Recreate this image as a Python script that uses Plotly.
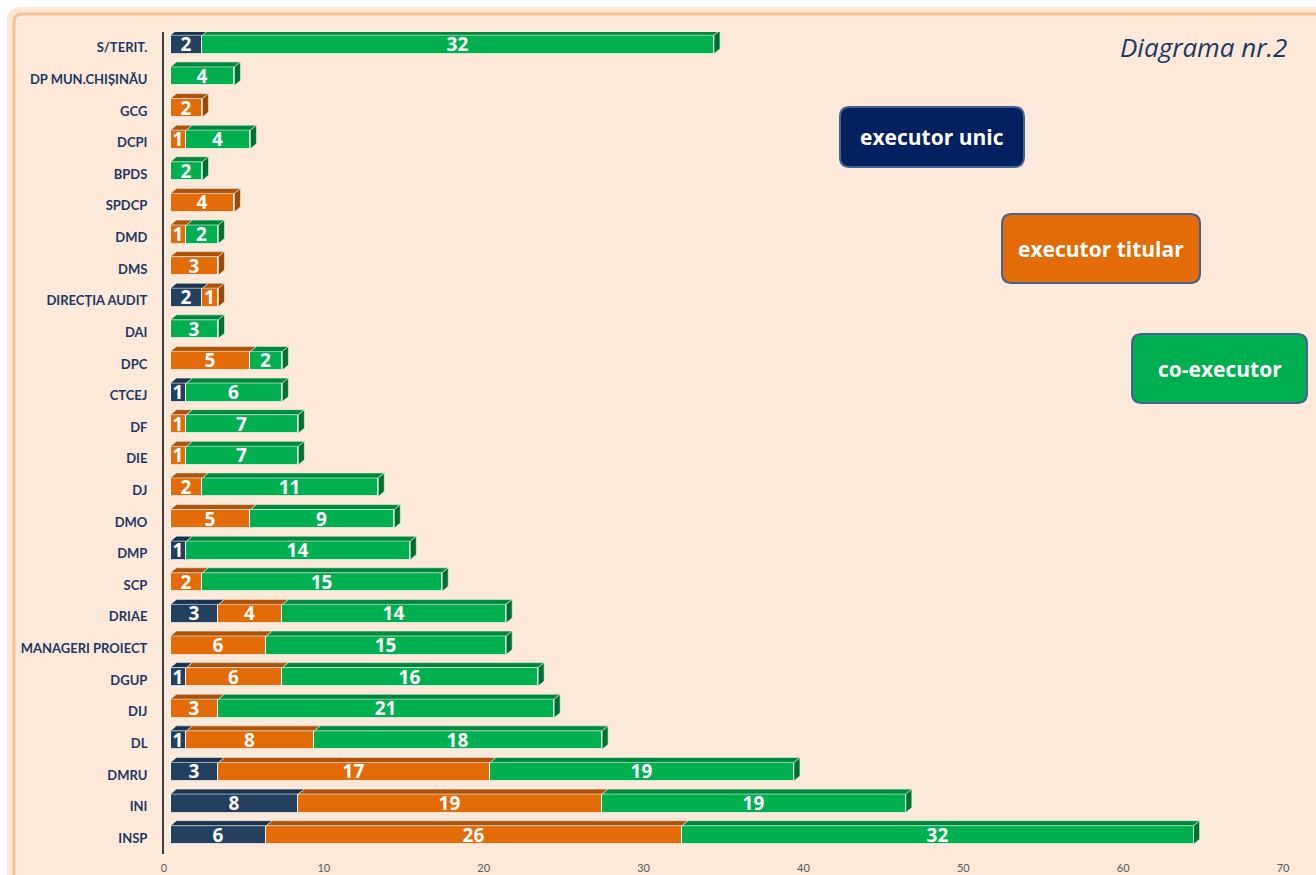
import plotly.graph_objects as go

# ---------------- data (top to bottom as in the chart) ----------------
categories = ["S/TERIT.", "DP MUN.CHIȘINĂU", "GCG", "DCPI", "BPDS", "SPDCP", "DMD", "DMS",
              "DIRECȚIA AUDIT", "DAI", "DPC", "CTCEJ", "DF", "DIE", "DJ", "DMO", "DMP", "SCP",
              "DRIAE", "MANAGERI PROIECT", "DGUP", "DIJ", "DL", "DMRU", "INI", "INSP"]
executor_unic = [2, 0, 0, 0, 0, 0, 0, 0, 2, 0, 0, 1, 0, 0, 0, 0, 1, 0, 3, 0, 1, 0, 1, 3, 8, 6]
executor_titular = [0, 0, 2, 1, 0, 4, 1, 3, 1, 0, 5, 0, 1, 1, 2, 5, 0, 2, 4, 6, 6, 3, 8, 17, 19, 26]
co_executor = [32, 4, 0, 4, 2, 0, 2, 0, 0, 3, 2, 6, 7, 7, 11, 9, 14, 15, 14, 15, 16, 21, 18, 19, 19, 32]
series_names = ["executor unic", "executor titular", "co-executor"]
x_ticks = [0, 10, 20, 30, 40, 50, 60, 70]
chart_title = "Diagrama nr.2"

# ---------------- styling / geometry ----------------
front_colors = ["#243F60", "#E36C09", "#00B050"]
top_colors = ["#1C3350", "#B0530A", "#00893E"]
side_colors = ["#16293F", "#9A4806", "#006F32"]
legend_fill = ["#002060", "#E36C09", "#00B050"]

W, H = 1316, 875
ML, MR, MT, MB = 164, 33, 32, 21
PW, PH = W - ML - MR, H - MT - MB
XMAX = 70
ppu_x = PW / XMAX
n = len(categories)
ppu_y = PH / n
BAR_SHIFT_PX = 6.5
DX_PX, DY_PX = 6.0, 5.0
bar_w = 18.5 / ppu_y
bar_off = -6.0 / ppu_y
dx = DX_PX / ppu_x
dy = DY_PX / ppu_y

pos = [n - 1 - i for i in range(n)]
series = [executor_unic, executor_titular, co_executor]

fig = go.Figure()

# invisible trace so the tick axis is drawn
fig.add_trace(go.Scatter(x=x_ticks, y=[pos[-1]] * len(x_ticks), xaxis="x", yaxis="y",
                         mode="markers", marker=dict(opacity=0), hoverinfo="skip", showlegend=False))

# front faces
for s, vals in enumerate(series):
    fig.add_trace(go.Bar(
        x=vals, y=pos, orientation="h", xaxis="x2", yaxis="y",
        width=bar_w, offset=bar_off, name=series_names[s],
        marker=dict(color=front_colors[s], line=dict(color="rgba(240,245,240,0.85)", width=1)),
        text=[str(v) if v else "" for v in vals],
        textposition="inside", insidetextanchor="middle", textangle=0,
        textfont=dict(color="white", size=19, family="Open Sans", weight="bold"),
        cliponaxis=False, hoverinfo="skip", showlegend=False,
    ))

# 3D top and right faces
cum = [0.0] * n
top_xy = [([], []) for _ in series]
side_xy = [([], []) for _ in series]
for i in range(n):
    last = None
    for s, vals in enumerate(series):
        v = vals[i]
        if v <= 0:
            continue
        x0, x1 = cum[i], cum[i] + v
        yt = pos[i] + bar_off + bar_w
        xs, ys = top_xy[s]
        xs += [x0, x1, x1 + dx, x0 + dx, x0, None]
        ys += [yt, yt, yt + dy, yt + dy, yt, None]
        cum[i] = x1
        last = s
    if last is not None:
        x1 = cum[i]
        yb = pos[i] + bar_off
        yt = yb + bar_w
        xs, ys = side_xy[last]
        xs += [x1, x1 + dx, x1 + dx, x1, x1, None]
        ys += [yb, yb + dy, yt + dy, yt, yb, None]

for s in range(len(series)):
    for (xs, ys), col in ((top_xy[s], top_colors[s]), (side_xy[s], side_colors[s])):
        if not xs:
            continue
        fig.add_trace(go.Scatter(
            x=xs, y=ys, xaxis="x2", yaxis="y", mode="lines", fill="toself",
            fillcolor=col, line=dict(color="rgba(225,238,228,0.8)", width=0.8),
            hoverinfo="skip", showlegend=False,
        ))

# ---------------- helpers for pixel-placed decorations ----------------
def px_x(px):
    return (px - ML) / PW

def px_y(py):
    return (H - MB - py) / PH

def rounded_path(x0, y0, x1, y1, r):
    pts = [
        ("M", x0 + r, y0), ("L", x1 - r, y0), ("Q", x1, y0, x1, y0 + r),
        ("L", x1, y1 - r), ("Q", x1, y1, x1 - r, y1), ("L", x0 + r, y1),
        ("Q", x0, y1, x0, y1 - r), ("L", x0, y0 + r), ("Q", x0, y0, x0 + r, y0),
    ]
    out = []
    for p in pts:
        cmd = p[0]
        coords = p[1:]
        conv = []
        for k in range(0, len(coords), 2):
            conv.append(f"{px_x(coords[k]):.5f},{px_y(coords[k + 1]):.5f}")
        out.append(cmd + " " + " ".join(conv))
    return " ".join(out) + " Z"

shapes = []
# peach panel with orange glow
shapes.append(dict(type="path", xref="paper", yref="paper", layer="below",
                   path=rounded_path(11, 11, 1340, 900, 10),
                   fillcolor="rgba(0,0,0,0)", line=dict(color="rgba(250,190,140,0.35)", width=8)))
shapes.append(dict(type="path", xref="paper", yref="paper", layer="below",
                   path=rounded_path(14, 14, 1336, 896, 8),
                   fillcolor="#FDE9D9", line=dict(color="#FAC08F", width=3)))

# legend boxes
legend_boxes = [(840, 107, 1024, 167), (1002, 214, 1200, 283), (1132, 334, 1307, 403)]
annotations = []
for (x0, y0, x1, y1), name, col in zip(legend_boxes, series_names, legend_fill):
    shapes.append(dict(type="path", xref="paper", yref="paper", layer="above",
                       path=rounded_path(x0, y0, x1, y1, 10),
                       fillcolor=col, line=dict(color="#41638F", width=2)))
    annotations.append(dict(x=px_x((x0 + x1) / 2), y=px_y((y0 + y1) / 2), xref="paper", yref="paper",
                            text=f"<b>{name}</b>", showarrow=False,
                            font=dict(family="Open Sans", size=21, color="white"),
                            xanchor="center", yanchor="middle"))

annotations.append(dict(x=px_x(1289), y=px_y(47), xref="paper", yref="paper",
                        text=f"<i>{chart_title}</i>", showarrow=False,
                        font=dict(family="Open Sans", size=26, color="#1F3864"),
                        xanchor="right", yanchor="middle"))

fig.update_layout(
    width=W, height=H,
    margin=dict(l=ML, r=MR, t=MT, b=MB, pad=0, autoexpand=False),
    paper_bgcolor="white", plot_bgcolor="rgba(0,0,0,0)",
    barmode="stack", bargap=0,
    showlegend=False,
    shapes=shapes, annotations=annotations,
    xaxis=dict(range=[0, XMAX], tickvals=x_ticks, ticktext=[str(t) for t in x_ticks],
               tickfont=dict(family="Lato", size=11, color="#595959"),
               showgrid=False, zeroline=False, showline=False, ticks="", automargin=False,
               ticklabelstandoff=6),
    xaxis2=dict(overlaying="x", anchor="y",
                range=[-BAR_SHIFT_PX / ppu_x, XMAX - BAR_SHIFT_PX / ppu_x],
                visible=False, automargin=False),
    yaxis=dict(range=[-0.5, n - 0.5], tickvals=pos, ticktext=categories,
               tickfont=dict(family="Lato", size=13, color="#1F3864", weight="bold"),
               showgrid=False, zeroline=False, showline=True, linecolor="#404040", linewidth=2,
               ticks="", ticklabelstandoff=12, automargin=False),
    uniformtext=dict(minsize=19, mode="show"),
)

fig.write_html("out.html", config={"displayModeBar": False},
               post_script="document.body.style.margin='0';")
